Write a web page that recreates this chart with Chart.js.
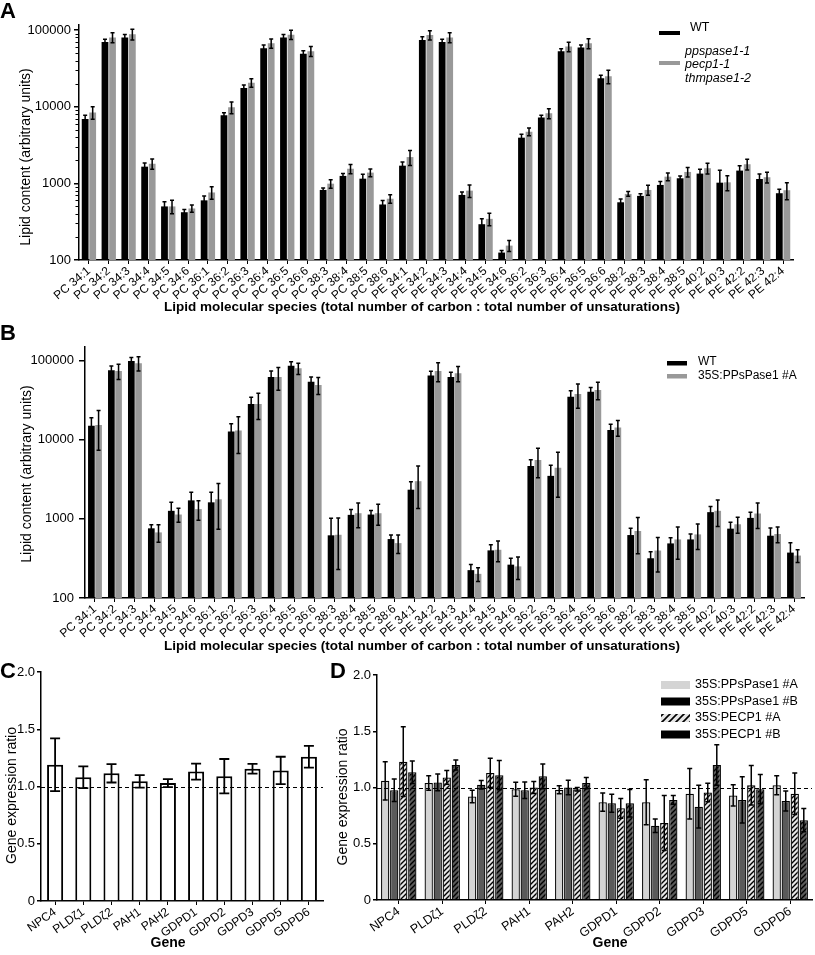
<!DOCTYPE html>
<html><head><meta charset="utf-8">
<script src="https://cdn.jsdelivr.net/npm/chart.js@4.4.1/dist/chart.umd.min.js"></script>
<style>
html,body{margin:0;padding:0;background:#fff;}
body{width:815px;height:955px;position:relative;overflow:hidden;}
canvas{position:absolute;}
</style></head><body>
<canvas id="cA" width="815" height="318" style="left:0px;top:0px"></canvas>
<canvas id="cB" width="815" height="340" style="left:0px;top:318px"></canvas>
<canvas id="cC" width="330" height="300" style="left:0px;top:655px"></canvas>
<canvas id="cD" width="485" height="300" style="left:330px;top:655px"></canvas>
<script>
const FONT = "'Liberation Sans', Arial, Helvetica, sans-serif";
Chart.defaults.font.family = FONT;
Chart.defaults.color = '#000';
Chart.defaults.animation = false;

// ---------- data ----------
const species = ['PC 34:1','PC 34:2','PC 34:3','PC 34:4','PC 34:5','PC 34:6','PC 36:1','PC 36:2','PC 36:3','PC 36:4','PC 36:5','PC 36:6','PC 38:3','PC 38:4','PC 38:5','PC 38:6','PE 34:1','PE 34:2','PE 34:3','PE 34:4','PE 34:5','PE 34:6','PE 36:2','PE 36:3','PE 36:4','PE 36:5','PE 36:6','PE 38:2','PE 38:3','PE 38:4','PE 38:5','PE 40:2','PE 40:3','PE 42:2','PE 42:3','PE 42:4'];

// Panel A: WT vs ppspase1-1 pecp1-1 thmpase1-2
const wtA     = [6900,70000,80000,1650,500,420,600,7700,17500,58000,80000,49000,820,1250,1150,530,1700,74000,70000,706,293,125,3940,7200,53000,58900,23400,566,686,953,1164,1340,1020,1466,1140,743];
const wtAErr  = [800,5800,7500,190,75,35,84,640,1650,5500,7500,4600,50,90,160,68,200,7800,5800,66,51,8,420,520,3800,4900,2200,60,43,100,84,188,460,235,182,95];
const mutA    = [8400,80000,88000,1800,500,470,760,9800,20500,67000,87000,53000,990,1550,1380,630,2200,86000,80000,803,344,154,4720,8180,60700,67000,24900,728,820,1222,1408,1574,1030,1774,1200,813];
const mutAErr = [1550,12000,14000,270,100,50,140,1700,2600,9300,12000,8000,127,215,160,80,490,12000,12000,148,64,25,550,1230,8500,10000,5000,52,123,140,197,252,227,284,192,203];

// Panel B: WT vs 35S:PPsPase1 #A
const wtB     = [15000,76000,99000,760,1265,1715,1620,12700,28400,62200,86500,54300,620,1125,1135,556,2340,64800,62200,225,400,264,4680,3500,35100,40600,13300,625,318,490,550,1217,753,1030,613,375];
const wtBErr  = [4000,9700,11000,86,355,450,550,3200,6000,12000,10500,8000,400,190,140,70,600,9000,9000,41,70,54,900,1280,6700,5400,2400,135,65,88,94,218,153,187,154,124];
const oxB     = [15400,74000,93000,675,1136,1330,1770,13100,28400,62200,80000,49300,630,1180,1180,494,3000,74000,69200,202,407,251,5570,4420,37950,42700,14300,703,398,550,637,1265,855,1170,644,344];
const oxBErr  = [8000,16000,19000,170,230,370,1030,6400,10300,20000,13000,12000,400,405,350,130,1650,20000,15000,40,120,80,2260,2540,12850,10600,3200,340,185,240,226,465,195,415,146,62];
const logTicks = [100, 1000, 10000, 100000];

// Panel C
const genes = ['NPC4','PLDζ1','PLDζ2','PAH1','PAH2','GDPD1','GDPD2','GDPD3','GDPD5','GDPD6'];
const ratioC    = [1.19,1.08,1.115,1.045,1.03,1.13,1.09,1.155,1.14,1.26];
const ratioCErr = [0.23,0.095,0.08,0.055,0.035,0.07,0.15,0.043,0.12,0.095];

// Panel D
const ppsA    = [1.06,1.04,0.92,0.985,0.98,0.87,0.87,0.945,0.93,1.02];
const ppsAErr = [0.17,0.065,0.056,0.062,0.036,0.082,0.2,0.224,0.095,0.085];
const ppsB    = [0.975,1.045,1.025,0.975,1.0,0.86,0.66,0.83,0.89,0.88];
const ppsBErr = [0.1,0.074,0.038,0.073,0.065,0.079,0.059,0.19,0.206,0.088];
const pecpA    = [1.23,1.09,1.13,1.0,0.985,0.815,0.685,0.955,1.02,0.945];
const pecpAErr = [0.31,0.062,0.13,0.053,0.015,0.088,0.244,0.082,0.176,0.185];
const pecpB    = [1.135,1.2,1.11,1.1,1.04,0.86,0.89,1.2,0.985,0.71];
const pecpBErr = [0.1,0.044,0.13,0.11,0.05,0.123,0.038,0.18,0.13,0.103];
const ratioTicks = [0, 0.5, 1, 1.5, 2];

// ---------- helpers ----------
function hatch(bg, size, lw) {
  const c = document.createElement('canvas'); c.width = size; c.height = size;
  const x = c.getContext('2d');
  x.fillStyle = bg; x.fillRect(0, 0, size, size);
  x.strokeStyle = '#000'; x.lineWidth = lw;
  x.beginPath();
  x.moveTo(-1, size + 1); x.lineTo(size + 1, -1);
  x.moveTo(-size / 2 - 1, size / 2 + 1); x.lineTo(size / 2 + 1, -size / 2 - 1);
  x.moveTo(size / 2 - 1, size * 1.5 + 1); x.lineTo(size * 1.5 + 1, size / 2 - 1);
  x.stroke();
  return x.createPattern(c, 'repeat');
}

function errorBars(lw, cap) {
  return {
    id: 'errorBars',
    afterDatasetsDraw(chart) {
      const ctx = chart.ctx, ys = chart.scales.y;
      chart.data.datasets.forEach((ds, i) => {
        if (!ds.errors) return;
        const meta = chart.getDatasetMeta(i);
        ctx.save(); ctx.strokeStyle = '#000'; ctx.lineWidth = lw;
        meta.data.forEach((el, j) => {
          const v = ds.data[j], e = ds.errors[j];
          let lo = v - e; const loIn = lo > ys.min; if (!loIn) lo = ys.min;
          const x = el.x, yt = ys.getPixelForValue(v + e), yb = ys.getPixelForValue(lo);
          ctx.beginPath();
          ctx.moveTo(x, yt); ctx.lineTo(x, yb);
          ctx.moveTo(x - cap, yt); ctx.lineTo(x + cap, yt);
          if (loIn) { ctx.moveTo(x - cap, yb); ctx.lineTo(x + cap, yb); }
          ctx.stroke();
        });
        ctx.restore();
      });
    }
  };
}

function minorTicks() {
  return {
    id: 'minorTicks',
    afterDraw(chart) {
      const ys = chart.scales.y, ctx = chart.ctx, x0 = chart.chartArea.left;
      ctx.save(); ctx.strokeStyle = '#000'; ctx.lineWidth = 1;
      for (let k = 2; k < 5; k++) for (let m = 2; m < 10; m++) {
        const v = m * Math.pow(10, k); if (v > ys.max) continue;
        const py = Math.round(ys.getPixelForValue(v)) + 0.5;
        ctx.beginPath(); ctx.moveTo(x0 - 3.5, py); ctx.lineTo(x0, py); ctx.stroke();
      }
      ctx.restore();
    }
  };
}

function refLine(value) {
  return {
    id: 'refLine',
    afterDatasetsDraw(chart) {
      const ys = chart.scales.y, ctx = chart.ctx, a = chart.chartArea;
      const py = Math.round(ys.getPixelForValue(value)) + 0.5;
      ctx.save(); ctx.strokeStyle = '#000'; ctx.lineWidth = 1.2; ctx.setLineDash([4, 3]);
      ctx.beginPath(); ctx.moveTo(a.left, py); ctx.lineTo(a.right, py); ctx.stroke();
      ctx.restore();
    }
  };
}

function deco(rects, texts) {
  return {
    id: 'deco',
    afterDraw(chart) {
      const ctx = chart.ctx;
      rects.forEach(r => { ctx.save(); ctx.fillStyle = r.fill; ctx.fillRect(r.x, r.y, r.w, r.h); ctx.restore(); });
      texts.forEach(t => {
        ctx.save();
        ctx.font = t.font; ctx.fillStyle = '#000';
        ctx.textAlign = t.align || 'center'; ctx.textBaseline = t.baseline || 'middle';
        ctx.translate(t.x, t.y); if (t.rot) ctx.rotate(t.rot);
        ctx.fillText(t.text, 0, 0);
        ctx.restore();
      });
    }
  };
}

const XTITLE = "Lipid molecular species (total number of carbon : total number of unsaturations)";

function lipidChart(id, wt, wtErr, mut, mutErr, c) {
  return new Chart(document.getElementById(id), {
    type: 'bar',
    data: { labels: species, datasets: [
      { label: 'WT', data: wt, errors: wtErr, backgroundColor: '#000', barPercentage: c.bp, categoryPercentage: c.cp },
      { label: c.mutLabel, data: mut, errors: mutErr, backgroundColor: '#999999', barPercentage: c.bp, categoryPercentage: c.cp }
    ]},
    options: {
      responsive: false, devicePixelRatio: 1, animation: false,
      layout: { padding: { left: 0, right: c.padR, top: c.padT, bottom: 0 } },
      plugins: { legend: { display: false }, tooltip: { enabled: false } },
      scales: {
        x: {
          grid: { display: true, drawOnChartArea: false, offset: false, tickLength: 4, color: '#000', lineWidth: 1 },
          border: { display: true, color: '#000', width: 1.5 },
          ticks: { autoSkip: false, maxRotation: 40, minRotation: 40, font: { size: 12 }, padding: 0, color: '#000' },
          afterFit: s => { s.height = c.xh; }
        },
        y: {
          type: 'logarithmic', min: 100, max: c.max,
          afterBuildTicks: s => { s.ticks = logTicks.map(v => ({ value: v })); },
          ticks: { callback: v => String(v), font: { size: 13 }, padding: c.tp, color: '#000' },
          grid: { display: true, drawOnChartArea: false, tickLength: c.tl, color: '#000', lineWidth: 1.5 },
          border: { display: true, color: '#000', width: 1.5 },
          afterFit: s => { s.width = c.yw; }
        }
      }
    },
    plugins: [errorBars(1.5, 2), deco(c.rects, c.texts)].concat(c.minor ? [minorTicks()] : [])
  });
}

// ---------- Panel A ----------
lipidChart('cA', wtA, wtAErr, mutA, mutAErr, {
  bp: 0.9, cp: 0.76, padR: 22, padT: 25, xh: 58, yw: 79, max: 116200, tp: 3, tl: 5, minor: true,
  mutLabel: 'ppspase1-1 pecp1-1 thmpase1-2',
  rects: [ { x: 659, y: 31, w: 21, h: 4, fill: '#000' }, { x: 659, y: 61, w: 21, h: 4, fill: '#999999' } ],
  texts: [
    { text: 'A', x: 0, y: 18, font: 'bold 22px ' + FONT, align: 'left', baseline: 'alphabetic' },
    { text: 'WT', x: 690, y: 28, font: '12.5px ' + FONT, align: 'left' },
    { text: 'ppspase1-1', x: 685, y: 51.5, font: 'italic 12.5px ' + FONT, align: 'left' },
    { text: 'pecp1-1', x: 685, y: 65, font: 'italic 12.5px ' + FONT, align: 'left' },
    { text: 'thmpase1-2', x: 685, y: 78.5, font: 'italic 12.5px ' + FONT, align: 'left' },
    { text: XTITLE, x: 422, y: 307, font: 'bold 13.5px ' + FONT },
    { text: 'Lipid content (arbitrary units)', x: 26, y: 157, font: '14px ' + FONT, rot: -Math.PI / 2 }
  ]
});

// ---------- Panel B ----------
lipidChart('cB', wtB, wtBErr, oxB, oxBErr, {
  bp: 0.93, cp: 0.72, padR: 11, padT: 29, xh: 60, yw: 85, max: 149000, tp: 5, tl: 6, minor: false,
  mutLabel: '35S:PPsPase1 #A',
  rects: [ { x: 667, y: 43, w: 20, h: 4.5, fill: '#000' }, { x: 667, y: 56, w: 20, h: 4.5, fill: '#999999' } ],
  texts: [
    { text: 'B', x: 0, y: 22, font: 'bold 22px ' + FONT, align: 'left', baseline: 'alphabetic' },
    { text: 'WT', x: 698, y: 43.5, font: '12px ' + FONT, align: 'left' },
    { text: '35S:PPsPase1 #A', x: 698, y: 58, font: '12px ' + FONT, align: 'left' },
    { text: XTITLE, x: 422, y: 328, font: 'bold 13.5px ' + FONT },
    { text: 'Lipid content (arbitrary units)', x: 27.5, y: 156, font: '14px ' + FONT, rot: -Math.PI / 2 }
  ]
});

// ---------- ratio charts ----------
function ratioScales(yw, xh, fs) {
  return {
    x: {
      grid: { display: true, drawOnChartArea: false, offset: false, tickLength: 4, color: '#000', lineWidth: 1 },
      border: { display: true, color: '#000', width: 1.5 },
      ticks: { autoSkip: false, maxRotation: 35, minRotation: 35, font: { size: fs }, padding: 0, color: '#000' },
      afterFit: s => { s.height = xh; }
    },
    y: {
      min: 0, max: 2,
      afterBuildTicks: s => { s.ticks = ratioTicks.map(v => ({ value: v })); },
      ticks: { callback: v => (v === 0 ? '0' : Number(v).toFixed(1)), font: { size: 13 }, padding: 2, color: '#000' },
      grid: { display: true, drawOnChartArea: false, tickLength: 4, color: '#000', lineWidth: 1.5 },
      border: { display: true, color: '#000', width: 1.5 },
      afterFit: s => { s.width = yw; }
    }
  };
}

// ---------- Panel C ----------
new Chart(document.getElementById('cC'), {
  type: 'bar',
  data: { labels: genes, datasets: [
    { label: 'ratio', data: ratioC, errors: ratioCErr, backgroundColor: '#fff', borderColor: '#000', borderWidth: 2, barPercentage: 1, categoryPercentage: 0.57 }
  ]},
  options: {
    responsive: false, devicePixelRatio: 1, animation: false,
    layout: { padding: { left: 0, right: 7, top: 17, bottom: 0 } },
    plugins: { legend: { display: false }, tooltip: { enabled: false } },
    scales: ratioScales(41, 54, 12)
  },
  plugins: [refLine(1), errorBars(1.8, 5), deco([], [
    { text: 'C', x: 0, y: 23, font: 'bold 22px ' + FONT, align: 'left', baseline: 'alphabetic' },
    { text: 'Gene', x: 168, y: 288, font: 'bold 14px ' + FONT },
    { text: 'Gene expression ratio', x: 12.5, y: 140.5, font: '14px ' + FONT, rot: -Math.PI / 2 }
  ])]
});

// ---------- Panel D ----------
const hatchLight = hatch('#e6e6e6', 5, 1.4);
const hatchDark = hatch('#5a5a5a', 5, 1.4);
const hatchLegend = hatch('#e6e6e6', 7, 1.6);
const dOpt = { borderColor: '#000', borderWidth: 1.3, barPercentage: 0.92, categoryPercentage: 0.83 };
new Chart(document.getElementById('cD'), {
  type: 'bar',
  data: { labels: genes, datasets: [
    Object.assign({ label: '35S:PPsPase1 #A', data: ppsA, errors: ppsAErr, backgroundColor: '#d4d4d4' }, dOpt),
    Object.assign({ label: '35S:PPsPase1 #B', data: ppsB, errors: ppsBErr, backgroundColor: '#5a5a5a' }, dOpt),
    Object.assign({ label: '35S:PECP1 #A', data: pecpA, errors: pecpAErr, backgroundColor: hatchLight }, dOpt),
    Object.assign({ label: '35S:PECP1 #B', data: pecpB, errors: pecpBErr, backgroundColor: hatchDark }, dOpt)
  ]},
  options: {
    responsive: false, devicePixelRatio: 1, animation: false,
    layout: { padding: { left: 0, right: 3, top: 20, bottom: 0 } },
    plugins: { legend: { display: false }, tooltip: { enabled: false } },
    scales: ratioScales(47, 55, 12.5)
  },
  plugins: [refLine(1), errorBars(1.5, 2.5), deco([
      { x: 331, y: 26, w: 29, h: 8, fill: '#d4d4d4' },
      { x: 331, y: 42.5, w: 29, h: 8, fill: '#000' },
      { x: 331, y: 59, w: 29, h: 8, fill: hatchLegend },
      { x: 331, y: 75.5, w: 29, h: 8, fill: '#000' }
    ], [
    { text: 'D', x: 0, y: 23, font: 'bold 22px ' + FONT, align: 'left', baseline: 'alphabetic' },
    { text: '35S:PPsPase1 #A', x: 365, y: 30, font: '12.5px ' + FONT, align: 'left' },
    { text: '35S:PPsPase1 #B', x: 365, y: 46.5, font: '12.5px ' + FONT, align: 'left' },
    { text: '35S:PECP1 #A', x: 365, y: 63, font: '12.5px ' + FONT, align: 'left' },
    { text: '35S:PECP1 #B', x: 365, y: 79.5, font: '12.5px ' + FONT, align: 'left' },
    { text: 'Gene', x: 280, y: 288, font: 'bold 14px ' + FONT },
    { text: 'Gene expression ratio', x: 13, y: 142, font: '14px ' + FONT, rot: -Math.PI / 2 }
  ])]
});
</script>
</body></html>
